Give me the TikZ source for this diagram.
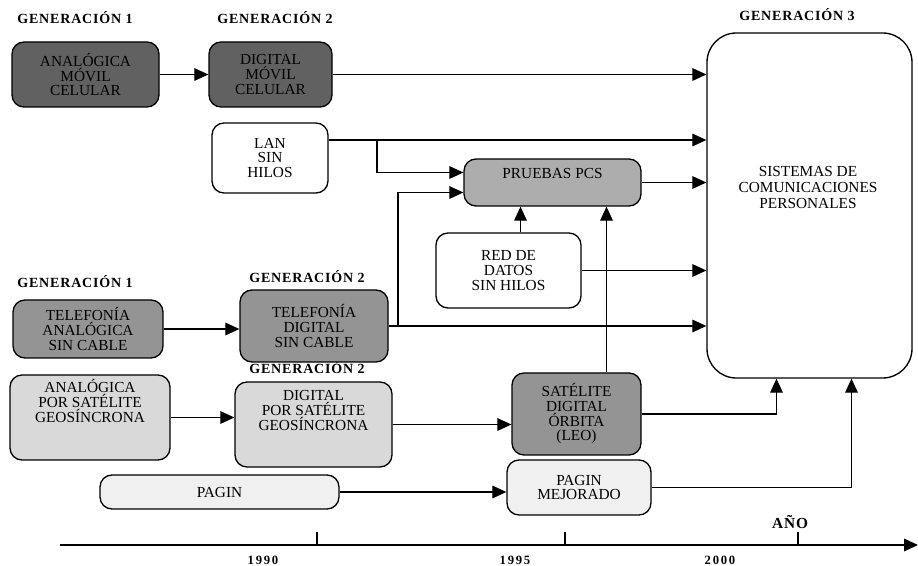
\documentclass[tikz,border=0pt]{standalone}
\usepackage{fontspec}
\setmainfont{Liberation Serif}
\usetikzlibrary{arrows.meta,calc}
\newcommand\mybox[7]{\node[#6, minimum width={(#4-#2)*0.75pt}, minimum height={(#5-#3)*0.75pt}] (#1) at ({(#2+#4)/2},{(#3+#5)/2}) {#7};}
\newfontfamily\hdrfont[LetterSpace=6]{Liberation Serif}
\newfontfamily\yrfont[LetterSpace=14]{Liberation Serif}
\tikzset{
  base/.style={draw, line width=1pt, rounded corners=9pt, inner sep=0pt, align=center, font=\fontsize{11.5}{11}\selectfont},
  dark/.style={base, fill=black!62},
  mid/.style={base, fill=black!42},
  pcsfill/.style={base, fill=black!32},
  light/.style={base, fill=black!15},
  pale/.style={base, fill=black!6},
  plain/.style={base, fill=white},
  arr/.style={line width=0.9pt, -{Triangle[length=10.5pt,width=9.5pt]}},
  hdr/.style={font=\hdrfont\bfseries\fontsize{10.5}{12}\selectfont, inner sep=0pt},
  yr/.style={font=\yrfont\bfseries\fontsize{9.5}{11}\selectfont, inner sep=0pt}
}
\begin{document}
\begin{tikzpicture}[x=0.75pt,y=-0.75pt]
\useasboundingbox (0,0) rectangle (918,566);
% headers
\node[hdr] (h1) at (75,18) {GENERACIÓN 1};
\node[hdr] (h2) at (275,18) {GENERACIÓN 2};
\node[hdr] (h3) at (797,15) {GENERACIÓN 3};
\node[hdr] (h4) at (75,282) {GENERACIÓN 1};
\node[hdr] (h5) at (307,277) {GENERACIÓN 2};
\node[hdr] (h6) at (307,368) {GENERACIÓN 2};
% boxes
\mybox{a1}{12}{42}{159}{107}{dark}{ANALÓGICA\\MÓVIL\\CELULAR}
\mybox{a2}{209}{42}{332}{107}{dark}{DIGITAL\\MÓVIL\\CELULAR}
\mybox{lan}{212}{123}{328}{193}{plain}{LAN\\SIN\\HILOS}
\mybox{pcs}{464}{159}{641}{206}{pcsfill}{PRUEBAS PCS\\[3pt]}
\mybox{red}{436}{233}{581}{308}{plain}{RED DE\\DATOS\\SIN HILOS}
\mybox{ta}{13}{300}{163}{358}{mid}{TELEFONÍA\\ANALÓGICA\\SIN CABLE}
\mybox{td}{240}{290}{388}{362}{mid}{TELEFONÍA\\DIGITAL\\SIN CABLE}
\mybox{sa}{10}{375}{170}{460}{light}{ANALÓGICA\\POR SATÉLITE\\GEOSÍNCRONA\\[14pt]}
\mybox{sd}{235}{382}{392}{467}{light}{DIGITAL\\POR SATÉLITE\\GEOSÍNCRONA\\[10pt]}
\mybox{leo}{512}{373}{641}{455}{mid}{SATÉLITE\\DIGITAL\\ÓRBITA\\(LEO)}
\mybox{pag}{100}{475}{339}{509}{pale}{PAGIN}
\mybox{pm}{507}{460}{651}{515}{pale}{PAGIN\\MEJORADO}
\node[base, fill=white, rounded corners=22pt, minimum width={(912-707)*0.75pt}, minimum height={(378-33)*0.75pt}] (big) at ({(707+912)/2},{(33+378)/2}) {};
\node[font=\fontsize{11.5}{12}\selectfont, align=center, inner sep=0pt] (bigt) at (808,188) {SISTEMAS DE\\COMUNICACIONES\\PERSONALES};
% connectors
\draw[arr] (a1.east) -- (a1.east -| a2.west);
\draw[arr] (a2.east) -- (a2.east -| big.west);
\coordinate (lanout) at (lan.east |- 0,140);
\draw[arr] (lanout) -- (lanout -| big.west);
\coordinate (br1) at (377,140);
\draw[arr] (br1) |- ([yshift=7.5pt]pcs.west);
\draw[arr] (ta.east) -- (ta.east -| td.west);
\draw[arr] (td.east) -- (td.east -| big.west);
\coordinate (br2) at (td.east -| 398,0);
\draw[arr] (br2) |- ([yshift=-7.5pt]pcs.west);
\draw[arr] (pcs.east) -- (pcs.east -| big.west);
\draw[arr] ([xshift=9pt]red.north) -- ([xshift=9pt]red.north |- pcs.south);
\draw[arr] (red.east) -- (red.east -| big.west);
\draw[arr] ([xshift=22.5pt]leo.north) -- ([xshift=22.5pt]leo.north |- pcs.south);
\draw[arr] (sa.east) -- (sa.east -| sd.west);
\draw[arr] (sd.east) -- (sd.east -| leo.west);
\draw[arr] (leo.east) -| ([xshift=-24.75pt]big.south);
\draw[arr] (pag.east) -- (pag.east -| pm.west);
\draw[arr] (pm.east) -| ([xshift=31.5pt]big.south);
% time axis
\coordinate (ax0) at (60,545);
\coordinate (ax1) at (918,545);
\draw[arr] (ax0) -- (ax1);
\draw[line width=0.9pt] (317,545) -- (317,532);
\draw[line width=0.9pt] (565,545) -- (565,532);
\draw[line width=0.9pt] (798,545) -- (798,532);
\node[yr] (y1) at (263,560) {1990};
\node[yr] (y2) at (515,560) {1995};
\node[yr] (y3) at (720,560) {2000};
\node[hdr, font=\hdrfont\bfseries\fontsize{11.5}{12}\selectfont] (ano) at (790,522) {AÑO};
\end{tikzpicture}
\end{document}
